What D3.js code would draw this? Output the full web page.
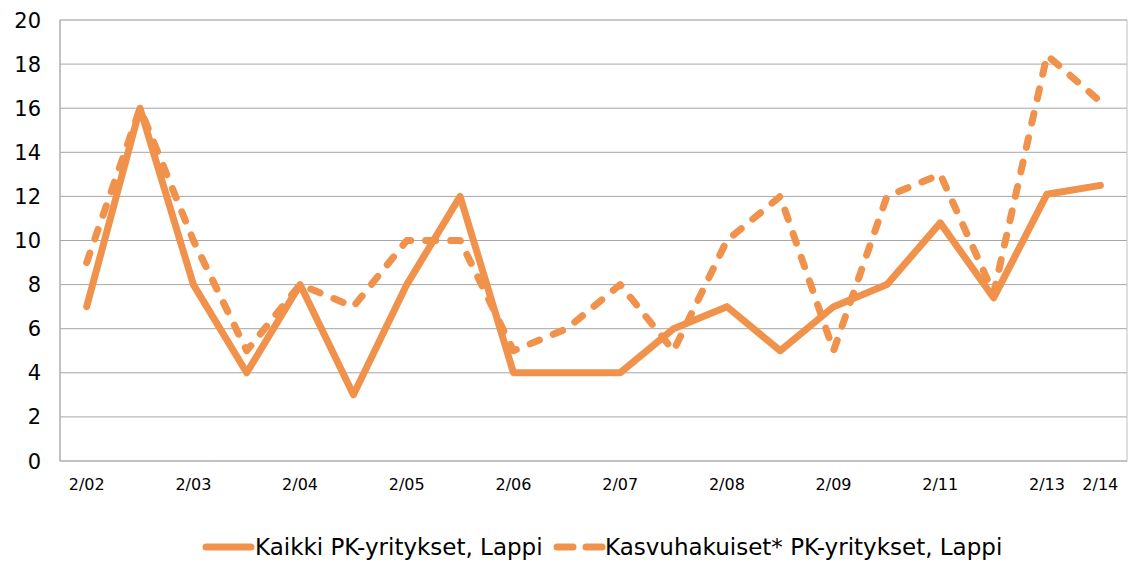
<!DOCTYPE html>
<html lang="fi">
<head>
<meta charset="UTF-8" />
<script src="https://d3js.org/d3.v7.min.js"></script>
<style>
  body { margin: 0; background: #fff; }
  text { font-family: "DejaVu Sans", sans-serif; fill: #000; }
</style>
</head>
<body>
<script>
// x labels: only every other period is labelled, the last two are adjacent
const xLabels = ["2/02", "", "2/03", "", "2/04", "", "2/05", "", "2/06", "", "2/07", "", "2/08", "", "2/09", "", "2/11", "", "2/13", "2/14"]
const kaikki = [7, 16, 8, 4, 8, 3, 8, 12, 4, 4, 4, 6, 7, 5, 7, 8, 10.8, 7.4, 12.1, 12.5]
const kasvu = [9, 16, 10, 5, 8, 7, 10, 10, 5, 6, 8, 5, 10, 12, 5, 12, 13, 7.6, 18.4, 16.3]
const yTicks = [0, 2, 4, 6, 8, 10, 12, 14, 16, 18, 20]
const seriesNames = ["Kaikki PK-yritykset, Lappi", "Kasvuhakuiset* PK-yritykset, Lappi"]

const width = 1133, height = 563
const color = "#f0924b"
const plotLeft = 60, plotRight = 1127, plotTop = 20, plotBottom = 461

const svg = d3.select("body").append("svg").attr("width", width).attr("height", height)

const x = d3.scaleBand().domain(d3.range(xLabels.length)).range([plotLeft, plotRight])
const y = d3.scaleLinear().domain([0, 20]).range([plotBottom, plotTop])

// gridlines
svg.append("g").selectAll("line").data(yTicks.slice(1)).enter().append("line")
    .attr("x1", plotLeft).attr("x2", plotRight)
    .attr("y1", d => y(d)).attr("y2", d => y(d))
    .attr("stroke", "#a6a6a6").attr("stroke-width", 1)

// plot frame
svg.append("rect").attr("x", plotLeft).attr("y", plotTop)
    .attr("width", plotRight - plotLeft).attr("height", plotBottom - plotTop)
    .attr("fill", "none").attr("stroke", "#bfbfbf").attr("stroke-width", 1)
svg.append("line").attr("x1", plotLeft).attr("x2", plotRight).attr("y1", plotBottom).attr("y2", plotBottom)
    .attr("stroke", "#a6a6a6")
svg.append("line").attr("x1", plotLeft).attr("x2", plotLeft).attr("y1", plotTop).attr("y2", plotBottom)
    .attr("stroke", "#a6a6a6")

// y labels
svg.append("g").selectAll("text").data(yTicks).enter().append("text")
    .attr("x", 41).attr("y", d => y(d)).attr("dy", "0.36em")
    .attr("text-anchor", "end").style("font-size", "21px")
    .text(d => d)

// x labels
svg.append("g").selectAll("text").data(xLabels).enter().append("text")
    .attr("x", (d, i) => x(i) + x.bandwidth() / 2).attr("y", 490)
    .attr("text-anchor", "middle").style("font-size", "16px")
    .text(d => d)

const line = d3.line().x((d, i) => x(i) + x.bandwidth() / 2).y(d => y(d))

svg.append("path").datum(kaikki).attr("d", line)
    .attr("fill", "none").attr("stroke", color).attr("stroke-width", 7)
    .attr("stroke-linejoin", "round").attr("stroke-linecap", "round")

svg.append("path").datum(kasvu).attr("d", line)
    .attr("fill", "none").attr("stroke", color).attr("stroke-width", 7)
    .attr("stroke-dasharray", "10,15")
    .attr("stroke-linejoin", "round").attr("stroke-linecap", "round")

// legend
const lg = svg.append("g")
lg.append("line").attr("x1", 206).attr("x2", 251).attr("y1", 547).attr("y2", 547)
    .attr("stroke", color).attr("stroke-width", 7).attr("stroke-linecap", "round")
lg.append("text").attr("x", 255).attr("y", 555).style("font-size", "23px").text(seriesNames[0])
lg.append("line").attr("x1", 557).attr("x2", 602).attr("y1", 547).attr("y2", 547)
    .attr("stroke", color).attr("stroke-width", 7).attr("stroke-linecap", "round")
    .attr("stroke-dasharray", "16,13")
lg.append("text").attr("x", 605).attr("y", 555).style("font-size", "23px").text(seriesNames[1])
</script>
</body>
</html>
